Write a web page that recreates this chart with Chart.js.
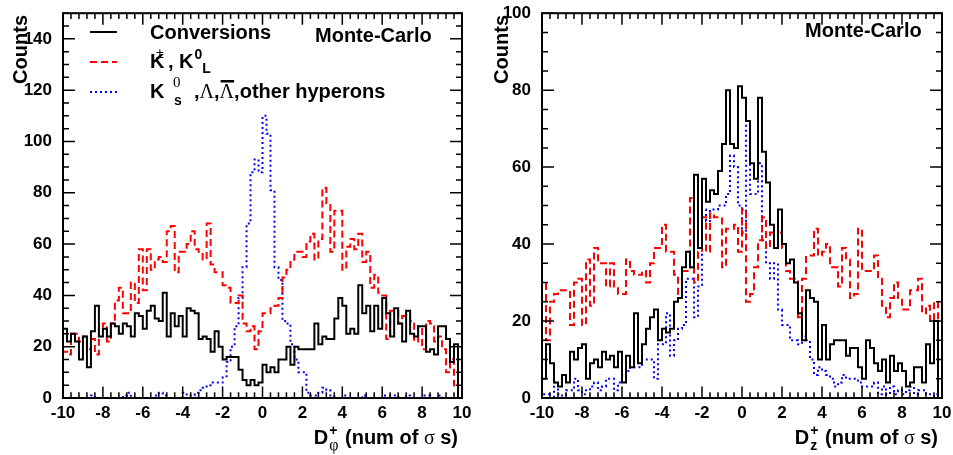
<!DOCTYPE html>
<html>
<head>
<meta charset="utf-8">
<title>D+ pull distributions</title>
<script src="https://cdn.jsdelivr.net/npm/chart.js@4.4.1/dist/chart.umd.min.js"></script>
<style>
  html, body { margin: 0; padding: 0; background: #ffffff; }
  #page { position: relative; width: 953px; height: 455px; overflow: hidden; background: #ffffff; }
  #page canvas { position: absolute; top: 0; }
  #phiPanel { left: 0; }
  #zPanel { left: 476px; }
</style>
</head>
<body>
<div id="page">
  <canvas id="phiPanel" width="476" height="455"></canvas>
  <canvas id="zPanel" width="477" height="455"></canvas>
</div>
<script>
// Binning shared by both panels: 100 bins of 0.2 sigma between -10 and 10
const X_MIN = -10;
const X_MAX = 10;
const BIN_WIDTH = 0.2;

const xTicks = [-10, -8, -6, -4, -2, 0, 2, 4, 6, 8, 10];
const phiCountTicks = [0, 20, 40, 60, 80, 100, 120, 140];
const zCountTicks = [0, 20, 40, 60, 80, 100];

const seriesNames = ['Conversions', 'K\u00b1, K0L', 'K0s, \u039b, anti-\u039b, other hyperons'];
const phiTitle = ['D', '+', '\u03c6', ' (num of ', '\u03c3', ' s)'];
const zTitle = ['D', '+', 'z', ' (num of ', '\u03c3', ' s)'];

// D+ phi pulls, counts per bin
const phiConversions = [
  22, 27, 22, 25, 22, 15, 24, 12, 26, 36,
  24, 27, 24, 29, 28, 25, 29, 28, 24, 33,
  32, 27, 34, 36, 31, 30, 41, 24, 33, 28,
  32, 24, 35, 34, 33, 23, 24, 23, 18, 26,
  20, 15, 16, 16, 16, 11, 7, 5, 7, 5,
  6, 13, 10, 12, 10, 15, 15, 20, 13, 20,
  19, 19, 19, 19, 29, 21, 24, 23, 23, 31,
  39, 36, 25, 27, 25, 44, 33, 36, 26, 36,
  27, 39, 33, 24, 35, 29, 22, 34, 25, 24,
  28, 28, 18, 19, 17, 28, 28, 23, 14, 21
];
const phiChargedK = [
  12, 18, 17, 25, 25, 22, 24, 19, 23, 17,
  27, 29, 22, 29, 38, 43, 33, 33, 45, 37,
  58, 42, 58, 50, 54, 55, 53, 65, 67, 49,
  57, 57, 60, 65, 58, 57, 54, 68, 52, 49,
  49, 44, 43, 37, 37, 40, 29, 26, 28, 19,
  26, 33, 33, 35, 36, 39, 47, 50, 54, 57,
  57, 55, 61, 64, 54, 62, 82, 76, 57, 73,
  73, 50, 59, 62, 58, 64, 53, 57, 43, 48,
  41, 40, 23, 34, 34, 29, 32, 32, 30, 22,
  28, 19, 30, 29, 22, 24, 19, 10, 15, 5
];
const phiStrange = [
  0, 0, 0, 0, 0, 0, 0, 0, 1, 0,
  0, 0, 0, 0, 0, 0, 1, 2, 0, 0,
  0, 0, 0, 0, 1, 2, 1, 0, 0, 0,
  0, 2, 1, 1, 2, 3, 4, 5, 6, 6,
  6, 8, 14, 20, 28, 39, 51, 68, 88, 93,
  88, 110, 103, 81, 51, 46, 30, 29, 21, 15,
  10, 10, 2, 1, 1, 2, 4, 3, 1, 0,
  0, 1, 0, 0, 0, 0, 1, 0, 0, 0,
  0, 1, 0, 1, 1, 0, 0, 1, 0, 0,
  0, 1, 1, 0, 0, 1, 0, 0, 0, 0
];

// D+ z pulls, counts per bin
const zConversions = [
  15, 5, 14, 9, 4, 3, 6, 4, 12, 10,
  13, 14, 5, 9, 10, 8, 12, 10, 11, 8,
  12, 4, 11, 8, 22, 9, 14, 18, 21, 23,
  15, 18, 17, 18, 25, 26, 34, 38, 34, 58,
  39, 57, 51, 54, 53, 59, 66, 80, 66, 65,
  81, 78, 72, 61, 57, 78, 64, 56, 45, 39,
  49, 40, 35, 36, 30, 22, 15, 28, 26, 25,
  10, 19, 10, 14, 15, 15, 15, 11, 13, 13,
  8, 5, 15, 13, 9, 7, 10, 4, 11, 7,
  9, 7, 3, 4, 8, 8, 4, 14, 9, 20
];
const zChargedK = [
  33, 30, 15, 25, 27, 28, 28, 28, 19, 30,
  31, 19, 36, 24, 39, 35, 35, 29, 35, 29,
  27, 27, 36, 33, 32, 32, 33, 30, 35, 39,
  39, 45, 38, 38, 32, 27, 33, 33, 52, 30,
  38, 47, 38, 48, 47, 47, 34, 44, 44, 45,
  38, 49, 25, 27, 34, 41, 47, 39, 43, 39,
  43, 39, 33, 31, 31, 21, 31, 37, 37, 44,
  37, 38, 40, 34, 34, 29, 39, 36, 26, 27,
  44, 33, 33, 33, 37, 31, 24, 21, 26, 30,
  26, 23, 23, 28, 28, 31, 22, 24, 20, 25
];
const zStrange = [
  0, 1, 1, 0, 4, 1, 0, 2, 2, 5,
  2, 1, 2, 3, 4, 2, 3, 5, 5, 2,
  4, 6, 7, 8, 8, 8, 10, 10, 10, 5,
  14, 14, 22, 11, 15, 18, 19, 31, 31, 21,
  29, 49, 46, 49, 49, 50, 50, 53, 63, 60,
  50, 43, 71, 53, 53, 61, 41, 35, 31, 35,
  23, 19, 19, 15, 15, 14, 16, 15, 10, 6,
  8, 7, 6, 5, 3, 4, 6, 5, 5, 5,
  4, 3, 3, 3, 4, 1, 3, 1, 3, 1,
  2, 1, 2, 3, 1, 2, 2, 1, 0, 1
];

const FONT = '"Liberation Sans", Arial, Helvetica, sans-serif';
const SERIF = '"Liberation Serif", "Times New Roman", serif';
const B20 = 'bold 20px ' + FONT;
const B14 = 'bold 14px ' + FONT;
const S20 = '20px ' + SERIF;
const S15 = '15px ' + SERIF;

const seriesStyles = [
  { borderColor: '#000000', borderWidth: 2, borderDash: [] },
  { borderColor: '#ff0000', borderWidth: 2, borderDash: [7, 4] },
  { borderColor: '#0000ff', borderWidth: 2, borderDash: [2, 3] }
];

// Outline of a fixed-width histogram: up from the axis at the first edge,
// one flat step per bin, back down to the axis at the last edge.
function histogramPoints(values) {
  const pts = [{ x: X_MIN, y: 0 }];
  values.forEach((v, i) => pts.push({ x: X_MIN + i * BIN_WIDTH, y: v }));
  pts.push({ x: X_MAX, y: 0 });
  return pts;
}

function makeDatasets(series) {
  return series.map((values, i) => Object.assign({
    label: seriesNames[i],
    data: histogramPoints(values),
    stepped: 'after',
    fill: false,
    pointRadius: 0,
    tension: 0
  }, seriesStyles[i]));
}

// Frame with inward tick marks on all four sides
const frameAndTicks = {
  id: 'frameAndTicks',
  afterDatasetsDraw(chart) {
    const ctx = chart.ctx;
    const a = chart.chartArea;
    const xs = chart.scales.x;
    const ys = chart.scales.y;
    ctx.save();
    ctx.setLineDash([]);
    ctx.strokeStyle = '#000000';
    ctx.lineWidth = 1.5;
    ctx.beginPath();
    for (let k = 0; k <= 50; k++) {
      const px = xs.getPixelForValue(X_MIN + k * 0.4);
      const len = k % 5 === 0 ? 11.5 : 5.8;
      ctx.moveTo(px, a.bottom); ctx.lineTo(px, a.bottom - len);
      ctx.moveTo(px, a.top); ctx.lineTo(px, a.top + len);
    }
    for (let k = 0; k * 5 <= ys.max; k++) {
      const py = ys.getPixelForValue(k * 5);
      const len = k % 4 === 0 ? 12 : 6;
      ctx.moveTo(a.left, py); ctx.lineTo(a.left + len, py);
      ctx.moveTo(a.right, py); ctx.lineTo(a.right - len, py);
    }
    ctx.stroke();
    ctx.lineWidth = 2;
    ctx.strokeRect(a.left, a.top, a.right - a.left, a.bottom - a.top);
    ctx.restore();
  }
};

function drawCounts(ctx, baselineX) {
  ctx.save();
  ctx.translate(baselineX, 15);
  ctx.rotate(-Math.PI / 2);
  ctx.font = B20;
  ctx.textAlign = 'right';
  ctx.textBaseline = 'alphabetic';
  ctx.fillText('Counts', 0, 0);
  ctx.restore();
}

function drawXTitle(ctx, right, baseline, parts, serifIndex) {
  const [main, sup, sub, middle, greek, tail] = parts;
  const subFont = serifIndex ? '16px ' + SERIF : B14;
  ctx.font = B20; const w1 = ctx.measureText(main).width;
  ctx.font = B14; const w2 = ctx.measureText(sup).width;
  ctx.font = subFont; const w3 = ctx.measureText(sub).width;
  ctx.font = B20; const w4 = ctx.measureText(middle).width;
  ctx.font = S20; const w5 = ctx.measureText(greek).width;
  ctx.font = B20; const w6 = ctx.measureText(tail).width;
  const idx = Math.max(w2, w3) + 1;
  let x = right - (w1 + 1 + idx + w4 + w5 + w6);
  ctx.font = B20; ctx.fillText(main, x, baseline); x += w1 + 1;
  ctx.font = B14; ctx.fillText(sup, x, baseline - 9);
  ctx.font = subFont; ctx.fillText(sub, x, baseline + 6);
  x += idx;
  ctx.font = B20; ctx.fillText(middle, x, baseline); x += w4;
  ctx.font = S20; ctx.fillText(greek, x, baseline); x += w5;
  ctx.font = B20; ctx.fillText(tail, x, baseline);
}

function drawLegend(chart) {
  const ctx = chart.ctx;
  const rowsY = [32, 62, 92];
  chart.data.datasets.forEach((ds, i) => {
    ctx.save();
    ctx.strokeStyle = ds.borderColor;
    ctx.lineWidth = ds.borderWidth;
    ctx.setLineDash(ds.borderDash);
    ctx.beginPath();
    ctx.moveTo(90, rowsY[i]);
    ctx.lineTo(117, rowsY[i]);
    ctx.stroke();
    ctx.restore();
  });
  ctx.fillStyle = '#000000';
  ctx.textAlign = 'left';
  ctx.textBaseline = 'alphabetic';
  ctx.font = B20;
  ctx.fillText('Conversions', 150, 39);

  ctx.fillText('K', 150, 68);
  ctx.font = '14px ' + FONT;
  ctx.fillText('\u00b1', 156, 58);
  ctx.font = B20;
  ctx.fillText(', K', 168, 68);
  let x = 168 + ctx.measureText(', K').width + 1;
  ctx.font = B14;
  ctx.fillText('0', x, 59);
  ctx.fillText('L', x + ctx.measureText('0').width, 73);

  ctx.font = B20;
  ctx.fillText('K', 150, 98);
  ctx.font = S15;
  ctx.fillText('0', 173, 87);
  ctx.font = B14;
  ctx.fillText('s', 174, 105);
  x = 194;
  ctx.font = B20; ctx.fillText(',', x, 98); x += ctx.measureText(',').width;
  ctx.font = S20; ctx.fillText('\u039b', x, 98); x += ctx.measureText('\u039b').width;
  ctx.font = B20; ctx.fillText(',', x, 98); x += ctx.measureText(',').width;
  ctx.font = S20;
  const wl = ctx.measureText('\u039b').width;
  ctx.fillText('\u039b', x, 98);
  ctx.fillRect(x + 1, 80, wl - 1, 2.5);
  x += wl;
  ctx.font = B20; ctx.fillText(',other hyperons', x, 98);
}

const phiText = {
  id: 'phiText',
  afterDraw(chart) {
    const ctx = chart.ctx;
    ctx.save();
    ctx.fillStyle = '#000000';
    drawCounts(ctx, 27);
    ctx.font = B20;
    ctx.textAlign = 'left';
    ctx.fillText('Monte-Carlo', 315, 42);
    drawLegend(chart);
    drawXTitle(ctx, chart.chartArea.right - 4, 444, phiTitle, true);
    ctx.restore();
  }
};

const zText = {
  id: 'zText',
  afterDraw(chart) {
    const ctx = chart.ctx;
    ctx.save();
    ctx.fillStyle = '#000000';
    drawCounts(ctx, 32);
    ctx.font = B20;
    ctx.textAlign = 'left';
    ctx.fillText('Monte-Carlo', 329, 37);
    drawXTitle(ctx, chart.chartArea.right - 4, 444, zTitle, false);
    ctx.restore();
  }
};

function makePanel(canvasId, series, yTicks, yMax, yAxisWidth, rightPad, textPlugin) {
  const tickFont = { family: FONT, size: 17, weight: 'bold' };
  return new Chart(document.getElementById(canvasId), {
    type: 'line',
    data: { datasets: makeDatasets(series) },
    options: {
      responsive: false,
      animation: false,
      events: [],
      layout: { padding: { top: 13, right: rightPad, bottom: 0, left: 0 } },
      scales: {
        x: {
          type: 'linear', min: X_MIN, max: X_MAX,
          afterFit: s => { s.height = 57; },
          afterBuildTicks: s => { s.ticks = xTicks.map(v => ({ value: v })); },
          grid: { display: false },
          border: { display: false },
          ticks: { padding: -3, color: '#000000', maxRotation: 0, autoSkip: false, font: tickFont, callback: v => String(v) }
        },
        y: {
          type: 'linear', min: 0, max: yMax,
          afterFit: s => { s.width = yAxisWidth; },
          afterBuildTicks: s => { s.ticks = yTicks.map(v => ({ value: v })); },
          grid: { display: false },
          border: { display: false },
          ticks: { padding: 3, color: '#000000', autoSkip: false, font: tickFont, callback: v => String(v) }
        }
      },
      plugins: { legend: { display: false }, tooltip: { enabled: false } }
    },
    plugins: [frameAndTicks, textPlugin]
  });
}

makePanel('phiPanel', [phiConversions, phiChargedK, phiStrange], phiCountTicks, 150, 63, 14, phiText);
makePanel('zPanel', [zConversions, zChargedK, zStrange], zCountTicks, 100, 66, 11, zText);
</script>
</body>
</html>
